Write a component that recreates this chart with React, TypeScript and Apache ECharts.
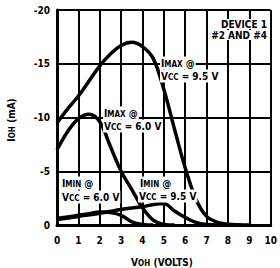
import React, { useEffect, useRef } from "react";
import * as echarts from "echarts";

const xTicks = [0, 1, 2, 3, 4, 5, 6, 7, 8, 9, 10];
const yTicks = [-20, -15, -10, -5, 0];

const imax95X = [0, 0.5, 1, 1.5, 2, 2.5, 3, 3.5, 4, 4.5, 5, 5.5, 6, 6.5, 7, 7.5, 8, 8.5, 9];
const imax95Y = [-9.5, -10.8, -12, -13.4, -14.8, -15.9, -16.7, -17, -16.6, -15.5, -12.6, -8.9, -5.3, -2.4, -0.8, -0.25, -0.08, -0.02, 0];

const imax60X = [0, 0.5, 1, 1.5, 2, 2.5, 3, 3.5, 4, 4.5, 5, 5.5];
const imax60Y = [-7, -8.7, -9.9, -10.3, -9.6, -7.3, -5, -3.3, -1.6, -0.45, -0.05, 0];

const imin60X = [0, 0.5, 1, 1.5, 2, 2.5, 3, 3.5, 4, 4.5];
const imin60Y = [-0.6, -0.75, -0.9, -1.05, -1.2, -1.15, -0.9, -0.3, -0.05, 0];

const imin95X = [0, 1, 2, 3, 4, 4.5, 5, 5.5, 6, 6.5, 7, 7.5];
const imin95Y = [-0.5, -0.8, -1.1, -1.45, -1.7, -1.9, -2.0, -1.3, -0.7, -0.25, -0.05, 0];

const FONT = "'Liberation Sans Narrow', 'DejaVu Sans Condensed', 'Noto Sans', sans-serif";

function pairs(xs: number[], ys: number[]) {
  return xs.map((x, i) => [x, ys[i]]);
}

export default function App() {
  const ref = useRef<HTMLDivElement>(null);
  useEffect(() => {
    const chart = echarts.init(ref.current!, null, { renderer: "svg" });
    const rich = {
      b: { fontSize: 10, fontWeight: "bold", fontFamily: FONT, fill: "#000", lineHeight: 13 },
      s: { fontSize: 8, fontWeight: "bold", fontFamily: FONT, fill: "#000", lineHeight: 13, padding: [3, 0, 0, 0] },
    } as any;
    const ann = (text: string, x: number, y: number, align = "left") => ({
      type: "text",
      x,
      y,
      z: 100,
      style: {
        text,
        rich,
        align,
        verticalAlign: "middle",
        fill: "#000",
        fontFamily: FONT,
        fontWeight: "bold",
        fontSize: 10,
        backgroundColor: "#fff",
        padding: [0, 1],
      },
    });
    const lineSeries = (name: string, xs: number[], ys: number[]) => ({
      name,
      type: "line",
      data: pairs(xs, ys),
      smooth: 0.35,
      showSymbol: false,
      symbol: "none",
      lineStyle: { color: "#000", width: 3.5 },
      z: 10,
    });
    chart.setOption({
      animation: false,
      backgroundColor: "#fff",
      grid: { left: 57, right: 7, top: 10, bottom: 43 },
      xAxis: {
        type: "value",
        min: xTicks[0],
        max: xTicks[xTicks.length - 1],
        interval: 1,
        axisLine: { show: true, lineStyle: { color: "#000", width: 3 } },
        axisTick: { show: false },
        axisLabel: { color: "#000", fontSize: 10, fontWeight: "bold", fontFamily: FONT, margin: 10 },
        splitLine: { show: true, lineStyle: { color: "#000", width: 2 } },
      },
      yAxis: {
        type: "value",
        inverse: true,
        min: yTicks[0],
        max: yTicks[yTicks.length - 1],
        interval: 5,
        axisLine: { show: true, lineStyle: { color: "#000", width: 3 } },
        axisTick: { show: false },
        axisLabel: { color: "#000", fontSize: 10, fontWeight: "bold", fontFamily: FONT, margin: 7 },
        splitLine: { show: true, lineStyle: { color: "#000", width: 2 } },
      },
      series: [
        lineSeries("IMAX 9.5", imax95X, imax95Y),
        lineSeries("IMAX 6.0", imax60X, imax60Y),
        lineSeries("IMIN 6.0", imin60X, imin60Y),
        lineSeries("IMIN 9.5", imin95X, imin95Y),
      ],
      graphic: [
        ann("DEVICE 1", 268, 24, "right"),
        ann("#2 AND #4", 268, 35, "right"),
        ann("{b|I}{s|MAX} {b|@}", 160, 63),
        ann("{b|V}{s|CC} {b|= 9.5 V}", 160, 76),
        ann("{b|I}{s|MAX} {b|@}", 103, 113),
        ann("{b|V}{s|CC} {b|= 6.0 V}", 103, 126),
        ann("{b|I}{s|MIN} {b|@}", 61, 183),
        ann("{b|V}{s|CC} {b|= 6.0 V}", 61, 197),
        ann("{b|I}{s|MIN} {b|@}", 139, 183),
        ann("{b|V}{s|CC} {b|= 9.5 V}", 138, 196),
        {
          type: "text",
          x: 162,
          y: 262,
          style: {
            text: "{b|V}{s|OH} {b|(VOLTS)}",
            rich,
            align: "center",
            verticalAlign: "middle",
          },
        },
        {
          type: "text",
          x: 11,
          y: 120,
          rotation: Math.PI / 2,
          style: {
            text: "{b|I}{s|OH} {b|(mA)}",
            rich,
            align: "center",
            verticalAlign: "middle",
          },
        },
      ],
    });
    return () => chart.dispose();
  }, []);
  return (
    <div
      ref={ref}
      style={{ position: "absolute", left: 0, top: 0, width: 280, height: 268 }}
    />
  );
}
